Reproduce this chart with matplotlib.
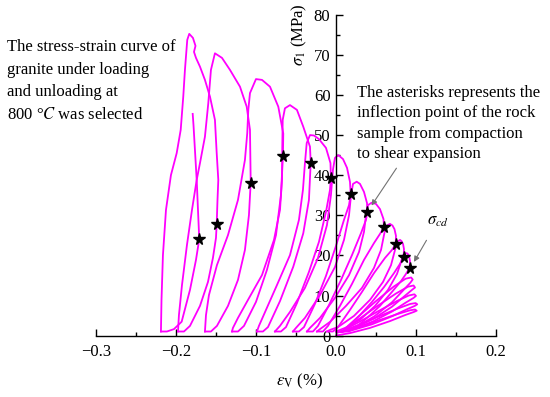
import matplotlib
matplotlib.use("Agg")
import matplotlib.pyplot as plt
from matplotlib.ticker import MultipleLocator

plt.rcParams['font.family'] = ['Liberation Serif', 'DejaVu Serif']
plt.rcParams['mathtext.fontset'] = 'stix'

# strain eps_V (%), stress sigma_1 (MPa), one list per cycle
loop_l1 = [(0.0, 0.0), (0.0175, 0.6), (0.0425, 1.9), (0.0675, 3.6), (0.0863, 5.1), (0.0975, 5.9),
           (0.1009, 6.2), (0.0988, 6.5), (0.0925, 6.3), (0.0775, 5.4), (0.055, 3.9), (0.03, 2.1),
           (0.0113, 1.1), (0.0025, 0.8)]
loop_l2 = [(0.0025, 0.8), (0.02, 1.3), (0.045, 2.8), (0.07, 4.8), (0.088, 6.5), (0.0985, 7.4),
           (0.1016, 7.8), (0.0995, 8.1), (0.093, 7.9), (0.078, 6.8), (0.055, 4.9), (0.03, 2.8),
           (0.012, 1.4), (0.0044, 0.9)]
loop_l3 = [(0.0044, 0.9), (0.022, 1.6), (0.046, 3.5), (0.07, 6.0), (0.087, 8.2), (0.097, 9.4),
           (0.1, 9.9), (0.098, 10.3), (0.091, 10.0), (0.076, 8.6), (0.053, 6.1), (0.03, 3.5),
           (0.013, 1.7), (0.0063, 1.0)]
loop_l4 = [(0.0063, 1.0), (0.024, 1.9), (0.047, 4.2), (0.07, 7.2), (0.086, 9.9), (0.095, 11.4),
           (0.0988, 12.0), (0.097, 12.5), (0.09, 12.2), (0.075, 10.5), (0.052, 7.4), (0.03, 4.3),
           (0.014, 2.0), (0.0075, 1.0)]
loop_l5 = [(0.0075, 1.0), (0.025, 2.1), (0.048, 4.8), (0.07, 8.3), (0.085, 11.5), (0.093, 13.2),
           (0.0959, 14.0), (0.094, 14.5), (0.087, 14.2), (0.072, 12.2), (0.05, 8.6), (0.03, 5.1),
           (0.015, 2.4), (0.0088, 1.0)]
loop_c2 = [(0.0088, 1.0), (0.0163, 1.0), (0.0238, 1.9), (0.04, 4.6), (0.055, 7.4), (0.07, 10.9),
           (0.0813, 13.6), (0.0875, 15.4), (0.0921, 16.95), (0.0925, 18.6), (0.0913, 19.9),
           (0.0894, 20.5), (0.0875, 20.6), (0.0838, 20.1), (0.0813, 18.4), (0.0763, 15.4),
           (0.065, 11.4), (0.0488, 7.4), (0.03, 3.9), (0.0113, 1.9), (0.0, 1.0)]
loop_c3 = [(0.0, 1.0), (0.0075, 1.0), (0.0138, 1.9), (0.03, 5.1), (0.045, 8.4), (0.06, 12.1),
           (0.0725, 15.6), (0.08, 17.9), (0.0846, 19.7), (0.085, 21.6), (0.0838, 22.9),
           (0.0819, 23.6), (0.08, 23.9), (0.0763, 23.4), (0.0738, 21.4), (0.0688, 17.6),
           (0.0588, 13.4), (0.0425, 8.9), (0.0225, 4.9), (0.0025, 2.1), (-0.0075, 1.4), (-0.0113, 1.0)]
loop_c4 = [(-0.0113, 1.0), (-0.0038, 1.0), (0.0025, 2.1), (0.0175, 6.4), (0.0325, 10.9),
           (0.0475, 15.6), (0.0613, 19.4), (0.07, 21.4), (0.0746, 22.8), (0.075, 24.9),
           (0.0731, 26.6), (0.0706, 27.5), (0.0675, 27.9), (0.0625, 27.4), (0.06, 25.1),
           (0.0563, 21.4), (0.0475, 16.9), (0.0325, 11.9), (0.0125, 7.4), (-0.0075, 3.4),
           (-0.02, 1.6), (-0.0238, 1.0)]
loop_c5 = [(-0.0238, 1.0), (-0.0163, 1.0), (-0.01, 2.4), (0.005, 7.4), (0.02, 12.9), (0.035, 18.9),
           (0.0475, 23.1), (0.055, 25.4), (0.06, 27.1), (0.0594, 29.1), (0.055, 31.6), (0.05, 32.9),
           (0.0446, 33.2), (0.04, 32.6), (0.0375, 30.1), (0.035, 25.9), (0.0288, 20.9),
           (0.0163, 15.1), (-0.0013, 9.4), (-0.02, 4.4), (-0.0325, 1.9), (-0.0363, 1.0)]
loop_c6 = [(-0.0363, 1.0), (-0.0288, 1.0), (-0.0225, 2.4), (-0.0088, 7.6), (0.0063, 13.9),
           (0.02, 20.1), (0.0313, 25.6), (0.0375, 28.9), (0.0391, 30.8), (0.0388, 33.1),
           (0.035, 35.9), (0.03, 37.9), (0.0259, 38.45), (0.0213, 37.9), (0.0188, 35.1),
           (0.0163, 30.1), (0.01, 23.9), (-0.0013, 17.1), (-0.02, 10.1), (-0.0388, 4.4),
           (-0.05, 1.9), (-0.0538, 1.0)]
loop_c7 = [(-0.0538, 1.0), (-0.0463, 1.0), (-0.04, 2.1), (-0.0263, 7.9), (-0.0125, 14.9),
           (0.0, 22.4), (0.01, 28.9), (0.0163, 32.6), (0.0184, 35.3), (0.0175, 38.4),
           (0.0138, 41.9), (0.0088, 44.1), (0.0029, 45.1), (-0.0013, 44.4), (-0.0038, 41.4),
           (-0.0063, 35.1), (-0.0113, 27.6), (-0.0225, 19.4), (-0.0388, 11.9), (-0.0575, 5.9),
           (-0.07, 2.4), (-0.0763, 1.0)]
loop_c8 = [(-0.0763, 1.0), (-0.0688, 1.0), (-0.0625, 2.1), (-0.0488, 8.1), (-0.0338, 15.9),
           (-0.0213, 23.4), (-0.0125, 30.9), (-0.0075, 36.4), (-0.0063, 39.45), (-0.0069, 43.1),
           (-0.0125, 46.9), (-0.0213, 49.1), (-0.0275, 50.0), (-0.0325, 50.1), (-0.0366, 48.1),
           (-0.0388, 43.1), (-0.0413, 36.4), (-0.0463, 28.9), (-0.0575, 20.1), (-0.0738, 12.6),
           (-0.0875, 6.4), (-0.0963, 2.4), (-0.0988, 1.0)]
loop_c9 = [(-0.0988, 1.0), (-0.0913, 1.0), (-0.085, 2.1), (-0.07, 8.6), (-0.0534, 17.2),
           (-0.0409, 25.55), (-0.0338, 33.9), (-0.0316, 43.2), (-0.0325, 47.2), (-0.0409, 52.2),
           (-0.0488, 56.4), (-0.0575, 57.6), (-0.0638, 56.8), (-0.0666, 53.9), (-0.0671, 47.2),
           (-0.0675, 38.9), (-0.07, 31.4), (-0.0775, 23.9), (-0.0925, 15.1), (-0.11, 8.9),
           (-0.1225, 4.4), (-0.1288, 1.9), (-0.13, 1.0)]
loop_c10 = [(-0.13, 1.0), (-0.1225, 1.0), (-0.115, 2.4), (-0.1, 8.4), (-0.0863, 16.4),
            (-0.075, 25.1), (-0.0688, 35.1), (-0.0663, 44.95), (-0.0659, 50.5), (-0.0721, 57.2),
            (-0.0825, 62.2), (-0.0925, 63.9), (-0.1, 64.1), (-0.1075, 60.6), (-0.1096, 56.4),
            (-0.1109, 50.6), (-0.1138, 43.9), (-0.1225, 33.9), (-0.135, 25.1), (-0.1488, 17.6),
            (-0.1588, 10.1), (-0.1625, 5.1), (-0.1638, 1.0)]
loop_c11 = [(-0.1638, 1.0), (-0.1563, 1.0), (-0.1488, 2.4), (-0.135, 7.4), (-0.1225, 13.9),
            (-0.1138, 21.4), (-0.1088, 30.1), (-0.1066, 38.2), (-0.1075, 51.4), (-0.1116, 57.2),
            (-0.12, 62.2), (-0.1325, 66.4), (-0.1425, 69.4), (-0.1513, 70.55), (-0.1563, 66.4),
            (-0.1596, 58.1), (-0.1638, 49.7), (-0.17, 43.1), (-0.1741, 38.9), (-0.18, 31.4),
            (-0.1863, 22.6), (-0.1925, 12.6), (-0.1963, 5.1), (-0.1975, 1.0)]
loop_c12 = [(-0.1975, 1.0), (-0.19, 1.0), (-0.1825, 2.4), (-0.17, 7.4), (-0.16, 13.4),
            (-0.1538, 19.4), (-0.15, 24.4), (-0.1491, 27.9), (-0.1481, 33.9), (-0.1471, 38.9),
            (-0.1491, 45.6), (-0.1513, 53.9), (-0.1575, 59.7), (-0.1638, 63.9), (-0.17, 67.2),
            (-0.175, 69.4), (-0.1775, 70.9), (-0.1756, 72.4), (-0.1788, 74.4), (-0.1834, 75.4),
            (-0.1859, 73.9), (-0.1888, 66.4), (-0.1909, 59.7), (-0.1941, 51.4), (-0.1991, 45.6),
            (-0.2063, 40.1), (-0.2125, 31.4), (-0.2163, 20.1), (-0.2181, 8.9), (-0.2188, 1.0)]
loop_final = [(-0.2188, 1.0), (-0.2113, 1.0), (-0.2025, 1.6), (-0.1929, 3.45), (-0.1825, 11.4),
              (-0.175, 18.9), (-0.1709, 24.1), (-0.1725, 31.4), (-0.1741, 38.9), (-0.1763, 46.4),
              (-0.1781, 52.6), (-0.1791, 55.4)]

# inflection points (asterisks)
star_x = [-0.1709, -0.1491, -0.1066, -0.0663, -0.0316, -0.0063, 0.0184, 0.0391, 0.060, 0.0746, 0.0846, 0.0921]
star_y = [24.1, 27.9, 38.2, 44.95, 43.2, 39.45, 35.3, 30.8, 27.1, 22.8, 19.7, 16.95]

x_ticks = [-0.3, -0.2, -0.1, 0.0, 0.1, 0.2]
x_labels = ['\u22120.3', '\u22120.2', '\u22120.1', '0.0', '0.1', '0.2']
y_ticks = [0, 10, 20, 30, 40, 50, 60, 70, 80]

cycles = [loop_l1, loop_l2, loop_l3, loop_l4, loop_l5, loop_c2, loop_c3, loop_c4, loop_c5,
          loop_c6, loop_c7, loop_c8, loop_c9, loop_c10, loop_c11, loop_c12, loop_final]

FS = 12

fig = plt.figure(figsize=(5.5, 3.97), dpi=100)
ax = fig.add_axes([0.1745, 0.1549, 0.7273, 0.8061])

for cyc in cycles:
    xs = [p[0] for p in cyc]
    ys = [p[1] for p in cyc]
    ax.plot(xs, ys, color='#ff00ff', lw=1.3, solid_joinstyle='round')

ax.plot(star_x, star_y, linestyle='none', marker='*', color='black', markersize=8.5, zorder=5)

ax.set_xlim(-0.3, 0.2)
ax.set_ylim(0, 80)

# centred spines like the original
ax.spines['left'].set_position(('data', 0))
ax.spines['bottom'].set_position(('data', 0))
ax.spines['top'].set_visible(False)
ax.spines['right'].set_visible(False)
for sp in ['left', 'bottom']:
    ax.spines[sp].set_linewidth(1.0)

ax.set_xticks(x_ticks)
ax.set_xticklabels(x_labels)
ax.set_yticks(y_ticks)
ax.xaxis.set_minor_locator(MultipleLocator(0.05))
ax.yaxis.set_minor_locator(MultipleLocator(5))
ax.tick_params(which='major', direction='in', length=5, width=1.0, labelsize=FS)
ax.tick_params(which='minor', direction='in', length=3, width=1.0)
ax.tick_params(axis='x', which='major', pad=6)
ax.tick_params(axis='y', which='major', pad=4)

fig.text(300 / 550, 1 - 381 / 397, r'$\varepsilon_{\mathrm{V}}$ (%)', ha='center', va='center', fontsize=FS)
fig.text(299 / 550, 1 - 35 / 397, r'$\sigma_1$ (MPa)', ha='center', va='center', rotation=90, fontsize=FS)

fig.text(7 / 550, 1 - 39 / 397,
         'The stress-strain curve of\ngranite under loading\nand unloading at\n800 \u00b0$C$ was selected',
         ha='left', va='top', fontsize=FS, linespacing=1.55)
fig.text(357 / 550, 1 - 85 / 397,
         'The asterisks represents the\ninflection point of the rock\nsample from compaction\nto shear expansion',
         ha='left', va='top', fontsize=FS, linespacing=1.36)

ax.annotate('', xy=(0.0425, 31.9), xytext=(0.0775, 42.4),
            arrowprops=dict(arrowstyle='-|>', color='0.45', lw=0.8, mutation_scale=8))
ax.annotate(r'$\sigma_{cd}$', xy=(0.0975, 18.4), xytext=(0.127, 28.6),
            ha='center', va='center', fontsize=FS,
            arrowprops=dict(arrowstyle='-|>', color='0.45', lw=0.8, mutation_scale=8,
                            shrinkA=7, shrinkB=0))

fig.savefig('out.png', dpi=100)
